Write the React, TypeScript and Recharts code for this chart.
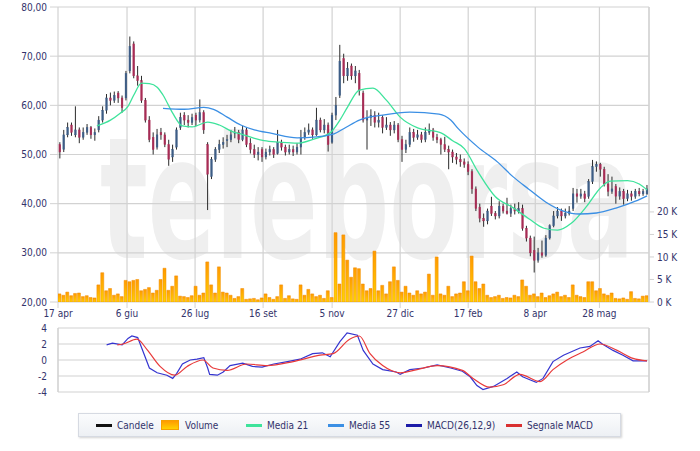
import React from "react";
import { ComposedChart, LineChart, Bar, Line, XAxis, YAxis, CartesianGrid, ReferenceLine } from "recharts";

const tickDays = [0, 35.5, 70.5, 105.5, 141, 176, 211, 245.5, 278.5];
const tickLabels = ["17 apr", "6 giu", "26 lug", "16 set", "5 nov", "27 dic", "17 feb", "8 apr", "28 mag"];
const priceTicks = [20, 30, 40, 50, 60, 70, 80];
const volumeTicks = [0, 5, 10, 15, 20];
const macdTicks = [-4, -2, 0, 2, 4];

const opens = [
  52, 51, 54, 56, 54, 55, 53.5, 54.5, 55.5, 54,
  55, 57, 59, 61.5, 61, 62.5, 61.5, 61.5, 67, 72.5,
  66, 65, 61, 57, 53.5, 51.5, 54.5, 54, 52, 49.5,
  51.5, 55.5, 58, 57, 56.5, 58, 57, 58.5, 52, 45.5,
  49, 51, 52, 52.8, 53, 54.3, 54.5, 53, 55, 52.3,
  51, 50, 51, 49.5, 50.5, 51, 50.2, 52.5, 51.5, 50.5,
  51, 50.5, 51.5, 53.5, 54.5, 55, 54, 57, 55, 56,
  52.5, 58, 62, 69.5, 66, 68, 66, 66.5, 62.5, 57,
  57.5, 58, 56.5, 57.5, 55.5, 56, 55, 56, 53, 51,
  52, 54.5, 53.5, 54, 53, 54.5, 55, 53.5, 53, 52,
  51, 50.5, 49.5, 49, 48.5, 48, 46.5, 43, 39.3, 37,
  36.5, 39.5, 38, 37.5, 39.5, 38.5, 38, 39, 38.5, 39,
  35, 33, 30.5, 28.5, 30, 29.5, 33, 35.5, 37.5, 38.5,
  37.5, 38, 39, 42, 41.5, 42, 41.5, 44.5, 47.5, 48,
  47, 44, 42.5, 43.5, 41.5, 42.5, 41, 42, 41.5, 42.5,
  42, 42,
];
const highs = [
  52.5, 55, 56.5, 56.5, 59.8, 55.5, 55.5, 56.2, 55.8, 55.3,
  57.8, 59.8, 62.3, 62.6, 62.8, 62.9, 62, 67, 74, 73,
  68, 66, 61.5, 57.8, 54.5, 55.2, 55.4, 54.5, 53, 52,
  55.5, 58.5, 58.6, 58, 58.3, 58.5, 61.2, 59, 52.5, 49.5,
  51.5, 53, 53.5, 54, 55, 55.6, 55, 55.8, 55.5, 53.3,
  52, 51.5, 51.5, 51.2, 51.8, 51.5, 55, 53, 52, 52,
  51.8, 52.3, 55, 55.5, 56.3, 55.5, 59.5, 57.5, 57.2, 56.5,
  58.5, 61.7, 72.3, 70.5, 68.8, 68.5, 68, 67.2, 63, 59,
  59.2, 58.8, 58.5, 58, 57.6, 56.6, 56.8, 56.4, 53.8, 53,
  55.5, 55.2, 55, 54.6, 55.5, 56.3, 55.4, 54.2, 53.4, 53.6,
  51.8, 51, 50.3, 50, 49.2, 48.6, 47, 43.5, 40, 38,
  39, 41.4, 38.5, 40.5, 40, 41.2, 39.8, 40, 40.3, 39.8,
  35.5, 33.5, 33.3, 31, 32.5, 33.6, 35.8, 38.5, 39.3, 39,
  39, 39.5, 43.2, 43, 43, 42.6, 45, 48.9, 48.6, 48.3,
  47.5, 46, 45.5, 44, 43.3, 43, 42.8, 42.6, 43, 43.2,
  43, 43.8,
];
const lows = [
  49.2, 50.5, 53.5, 53.8, 53.5, 52.3, 53, 54, 53.2, 52.8,
  54.5, 56.5, 58.3, 60, 60.5, 60.5, 58.5, 61, 66.5, 65.5,
  64, 60.5, 56.5, 52.5, 50, 51, 53, 51.5, 47.7, 48.5,
  51, 55, 56, 55.5, 56, 55.8, 56.5, 54.2, 38.7, 45,
  48.5, 50.3, 51.2, 51.5, 52.5, 53.3, 52.3, 52.7, 51.5, 50.2,
  49.3, 48.8, 48.5, 49, 49.8, 49.3, 50, 50.8, 49.8, 50,
  49.7, 50, 50, 53, 54, 53.2, 53.8, 54.5, 54.3, 50.6,
  52.2, 57, 61.5, 64.5, 65, 65.2, 64.5, 62, 56.5, 51,
  55.8, 55.5, 55.5, 54.3, 55, 53.8, 54.3, 52.5, 48.5, 50.3,
  51.5, 52.6, 53, 52.4, 52.5, 54, 52.8, 52.3, 50, 50.5,
  47, 48.3, 48, 47.5, 47.3, 45.8, 42, 38.5, 36.2, 35.3,
  35.8, 37.5, 36.8, 37, 38, 37.8, 37.3, 37.8, 38, 34.5,
  32.3, 29.3, 26, 28, 29, 29.2, 32.7, 35.2, 37, 36.5,
  37, 37.6, 38.5, 40.2, 41, 40.3, 41, 44, 46.5, 45.5,
  43.5, 41.5, 42, 40, 40.8, 39.8, 40.5, 40.6, 41, 41.5,
  41.6, 41.8,
];
const closes = [
  50.5, 54, 55.5, 54.5, 55, 53.5, 54.5, 55.5, 54, 54.5,
  57, 59, 61.5, 61, 62, 61.5, 59.5, 66.5, 72, 66,
  65, 61, 57, 53, 51, 54, 54, 52, 49, 51,
  55, 57.5, 57, 56.5, 57.5, 57, 58.5, 55, 46, 49,
  51, 52, 52.5, 53, 54, 54.5, 53, 55, 52, 51,
  50, 50.5, 49.5, 50.5, 51, 50, 52.5, 51.5, 50.5, 51,
  50.5, 51.5, 53.5, 54.5, 55, 54, 57, 55, 56, 52,
  58, 60, 69, 66, 67.5, 66, 67, 63, 57, 57.5,
  58, 56.5, 57, 55.5, 56, 55, 56, 53, 51, 52,
  54.5, 53.5, 54, 53, 54.5, 55, 53.5, 53, 52, 51,
  50.5, 49.5, 49, 48.5, 48, 46.5, 43, 39, 37, 36.5,
  38.5, 38, 37.5, 39.5, 38.5, 38, 39, 38.5, 39, 35,
  33, 30, 28.5, 30, 29.5, 33, 35.5, 37.5, 38.5, 37.5,
  38, 38.5, 42, 41.5, 42, 41, 44.5, 47.5, 48, 47,
  44, 42.5, 43, 41.5, 42.5, 41, 42, 41.5, 42.5, 42,
  42.5, 43,
];
const volumes = [
  1.8, 1.5, 2.2, 1.4, 1.9, 2.0, 1.2, 1.4, 1.0, 0.9,
  3.8, 6.5, 2.5, 3.0, 1.5, 1.8, 1.2, 4.8, 4.5, 4.8,
  5.0, 2.5, 2.8, 3.2, 2.0, 2.6, 5.0, 7.5, 2.6, 3.5,
  5.8, 1.3, 1.2, 1.0, 1.4, 3.5, 1.5, 2.0, 8.9, 3.8,
  2.0, 7.8, 2.2, 2.0, 1.5, 0.8, 1.2, 3.0, 0.6, 0.7,
  0.8, 0.5, 0.9, 1.8, 1.0, 0.6, 1.2, 3.8, 0.8, 1.4,
  0.7, 0.6, 3.8, 1.5, 2.8, 1.8, 1.2, 1.5, 0.8, 2.5,
  1.0, 15.4, 4.0, 14.9, 9.3, 5.5, 7.6, 7.4, 4.0, 2.5,
  3.0, 11.3, 2.5, 3.7, 1.8, 4.5, 7.8, 4.8, 2.2, 3.5,
  2.0, 1.5, 2.5, 1.8, 2.2, 6.2, 1.5, 10.0, 1.8, 1.5,
  3.5, 1.2, 1.8, 2.0, 4.5, 2.5, 10.2, 4.5, 3.0, 4.0,
  1.5, 1.0, 1.2, 1.5, 0.8, 1.0, 0.9, 1.5, 1.2, 4.9,
  3.5, 1.5, 1.8, 1.2, 2.0, 1.0, 1.4, 1.8, 2.2, 1.2,
  1.5, 1.0, 3.8, 1.5, 1.2, 1.0, 4.5, 4.5, 2.5, 3.0,
  1.8, 1.5, 2.0, 0.8, 0.7, 0.9, 0.6, 2.3, 0.8, 0.7,
  1.3, 1.4,
];

const ma21Days = [20, 27, 32, 36, 39, 43, 47, 51, 54, 59, 64, 69, 77, 83, 90, 94, 101, 106, 114, 123, 132, 140, 145, 149, 155, 162, 169, 176, 185, 197, 203, 209, 216, 225, 234, 242, 250, 257, 264, 272, 279, 284, 293, 299, 303];
const ma21Values = [55.8, 57.0, 58.4, 59.8, 62.1, 64.5, 64.4, 63.7, 62.1, 58.4, 55.8, 55.6, 56.6, 56.0, 54.6, 54.2, 53.3, 52.8, 52.5, 52.3, 53.2, 54.4, 57.0, 59.7, 63.1, 63.5, 61.0, 57.6, 55.4, 54.4, 52.8, 51.2, 46.5, 41.4, 39.2, 37.0, 35.0, 34.6, 36.0, 39.5, 43.2, 44.6, 44.7, 44.0, 42.8];
const ma55Days = [54, 65, 75, 80, 87, 94, 101, 110, 123, 133, 142, 148, 155, 167, 181, 196, 202, 206, 216, 226, 234, 242, 251, 260, 268, 277, 287, 297, 303];
const ma55Values = [59.4, 59.2, 59.6, 59.2, 57.6, 56.0, 55.0, 54.3, 53.4, 53.6, 54.2, 55.5, 57.0, 58.0, 58.6, 58.2, 57.0, 55.2, 51.5, 48.5, 45.5, 43.0, 40.3, 38.5, 37.9, 38.1, 39.1, 40.5, 41.6];

const macdDays = [25, 28, 33, 36, 38, 41, 44, 47, 51, 56, 59, 61, 64, 68, 71.5, 75, 77, 78, 82, 85, 88.5, 95, 100, 105, 111, 118, 124.5, 131, 136, 140, 145, 148.7, 154, 157, 162, 167, 174, 176, 181, 188, 195, 202, 208, 212, 215.5, 218.6, 224, 231, 236, 239, 243, 246, 249.5, 254.6, 260, 268.5, 273.6, 277.8, 280, 285.5, 290.6, 295.8, 303];
const macdValues = [1.9, 2.1, 1.9, 2.7, 3.0, 2.8, 0.9, -1.0, -1.6, -1.9, -2.3, -1.7, -0.5, 0.0, 0.1, 0.3, -1.0, -1.8, -1.9, -1.5, -0.7, -0.4, -0.8, -0.9, -0.5, -0.2, 0.1, 0.8, 0.9, 0.4, 2.3, 3.4, 3.1, 1.2, -0.5, -1.2, -1.5, -1.8, -1.2, -1.0, -0.6, -1.0, -1.4, -2.1, -3.2, -3.7, -3.3, -2.3, -1.5, -2.1, -2.5, -2.8, -2.3, -0.2, 0.6, 1.5, 1.7, 2.4, 2.0, 1.2, 0.6, -0.1, -0.1];
const signalDays = [30.5, 33.4, 40.6, 45.8, 52.5, 60, 66.4, 74.6, 79.7, 87, 97, 107.5, 121, 134.8, 141.5, 150, 155, 160.5, 167, 176, 184.7, 195, 208, 213.5, 222, 229, 237.6, 248, 254.6, 261.8, 270, 278.8, 287.6, 295.8, 303];
const signalValues = [1.9, 2.0, 2.6, 1.3, -0.8, -1.9, -0.8, 0.0, -1.0, -1.3, -0.5, -0.7, -0.2, 0.6, 0.8, 2.6, 3.0, 0.8, -0.7, -1.6, -1.2, -0.7, -1.3, -2.3, -3.4, -3.1, -1.8, -2.7, -1.2, 0.0, 1.0, 2.0, 1.2, 0.2, -0.1];

const FONT = "'DejaVu Sans Condensed', 'DejaVu Sans', sans-serif";
const TEXT = "#33336b";
const GRID = "#d2d2d2";
const C_MA21 = "#3ee39b";
const C_MA55 = "#3b8fe4";
const C_MACD = "#3535d0";
const C_SIG = "#e83a3a";

const rows = opens.map((o, i) => ({
  d: 1 + 2 * i,
  o,
  h: highs[i],
  l: lows[i],
  c: closes[i],
  prev: i > 0 ? closes[i - 1] : o,
  range: [lows[i], highs[i]],
  v: volumes[i],
}));
const ma21 = ma21Days.map((d, i) => ({ d, v: ma21Values[i] }));
const ma55 = ma55Days.map((d, i) => ({ d, v: ma55Values[i] }));
const macd = macdDays.map((d, i) => ({ d, v: macdValues[i] }));
const signal = signalDays.map((d, i) => ({ d, v: signalValues[i] }));

const fmtDay = (v: number) => {
  const i = tickDays.indexOf(v);
  return i >= 0 ? tickLabels[i] : "";
};
const tickStyle = { fill: TEXT, fontSize: 10, fontFamily: FONT };

const Candle = (props: any) => {
  const { x, y, width, height, payload } = props;
  if (!payload || x == null) return null;
  const { o, h, l, c, prev } = payload;
  const top = Math.min(y, y + height);
  const hp = Math.abs(height);
  const ppu = hp / (h - l || 1);
  const bTop = top + (h - Math.max(o, c)) * ppu;
  const bBot = top + (h - Math.min(o, c)) * ppu;
  const cx = x + width / 2;
  const color = c < o ? "#a82c55" : c >= prev ? "#3d5d86" : "#3fae6c";
  return (
    <g>
      <line x1={cx} x2={cx} y1={top} y2={top + hp} stroke="#2b2b2b" strokeWidth={1} />
      <rect x={x} y={bTop} width={width} height={Math.max(bBot - bTop, 1)} fill={color} stroke={color} strokeWidth={0.4} />
    </g>
  );
};

const legendItems = [
  { label: "Candele", color: "#111", kind: "line", left: 17 },
  { label: "Volume", color: "#ffa800", kind: "box", left: 82 },
  { label: "Media 21", color: C_MA21, kind: "line", left: 167 },
  { label: "Media 55", color: C_MA55, kind: "line", left: 249 },
  { label: "MACD(26,12,9)", color: "#1c1ca8", kind: "line", left: 327 },
  { label: "Segnale MACD", color: "#d93030", kind: "line", left: 427 },
];

export default function App() {
  return (
    <div style={{ position: "absolute", left: 0, top: 0, width: 700, height: 451, background: "#fff", overflow: "hidden" }}>
      <svg width={700} height={451} style={{ position: "absolute", left: 0, top: 0 }}>
        <text transform="translate(100 258) scale(1.0 1.7)" x={0} y={0} fontFamily="'DejaVu Sans', sans-serif" fontWeight="bold" fontSize={100} fill="#efefef">
          teleborsa
        </text>
      </svg>

      <div style={{ position: "absolute", left: 0, top: 0 }}>
        <ComposedChart width={700} height={325} data={rows} margin={{ top: 7, right: 0, bottom: 0, left: 0 }}>
          <defs>
            <linearGradient id="volGrad" x1="0" y1="0" x2="0" y2="1">
              <stop offset="0" stopColor="#ff9a00" />
              <stop offset="1" stopColor="#ffd200" />
            </linearGradient>
          </defs>
          <CartesianGrid stroke={GRID} strokeWidth={1.2} />
          <XAxis dataKey="d" type="number" domain={[0, 304]} ticks={tickDays} interval={0} tickFormatter={fmtDay} tick={tickStyle} tickLine={{ stroke: GRID }} tickSize={6} tickMargin={2} axisLine={false} height={23} allowDataOverflow />
          <YAxis yAxisId={0} domain={[20, 80]} ticks={priceTicks} interval={0} tickFormatter={(v: number) => v.toFixed(2).replace(".", ",")} width={58} tick={tickStyle} tickLine={{ stroke: GRID }} tickSize={8} tickMargin={3} axisLine={false} allowDataOverflow />
          <YAxis yAxisId="vol" orientation="right" domain={[0, 65.5]} ticks={volumeTicks} interval={0} tickFormatter={(v: number) => `${v} K`} width={51} tick={tickStyle} tickLine={{ stroke: GRID }} tickSize={5} tickMargin={3} axisLine={false} allowDataOverflow />
          <ReferenceLine x={304} yAxisId={0} stroke={GRID} strokeWidth={1.2} />
          <Bar yAxisId="vol" dataKey="v" barSize={3} fill="url(#volGrad)" stroke="#f08c00" strokeWidth={0.5} isAnimationActive={false} />
        </ComposedChart>
      </div>

      <div style={{ position: "absolute", left: 0, top: 0 }}>
        <ComposedChart width={700} height={325} data={rows} margin={{ top: 7, right: 51, bottom: 23, left: 58 }}>
          <XAxis dataKey="d" type="number" domain={[0, 304]} hide allowDataOverflow />
          <YAxis domain={[20, 80]} hide allowDataOverflow />
          <Bar dataKey="range" barSize={3} shape={(p: any) => <Candle {...p} />} isAnimationActive={false} />
          <Line data={ma21} dataKey="v" type="monotone" stroke={C_MA21} strokeWidth={1.3} dot={false} activeDot={false} isAnimationActive={false} />
          <Line data={ma55} dataKey="v" type="monotone" stroke={C_MA55} strokeWidth={1.3} dot={false} activeDot={false} isAnimationActive={false} />
        </ComposedChart>
      </div>

      <div style={{ position: "absolute", left: 0, top: 320 }}>
        <LineChart width={700} height={80} margin={{ top: 8, right: 51, bottom: 8, left: 0 }}>
          <CartesianGrid stroke={GRID} strokeWidth={1.2} />
          <XAxis dataKey="d" type="number" domain={[0, 304]} ticks={tickDays} interval={0} height={0} tick={false} tickLine={false} axisLine={false} allowDataOverflow />
          <YAxis domain={[-4, 4]} ticks={macdTicks} interval={0} width={58} tick={tickStyle} tickLine={false} tickSize={0} tickMargin={11} axisLine={{ stroke: GRID }} allowDataOverflow />
          <ReferenceLine x={304} stroke={GRID} strokeWidth={1.2} />
          <Line data={macd} dataKey="v" type="linear" stroke={C_MACD} strokeWidth={1.2} dot={false} activeDot={false} isAnimationActive={false} />
          <Line data={signal} dataKey="v" type="monotone" stroke={C_SIG} strokeWidth={1.2} dot={false} activeDot={false} isAnimationActive={false} />
        </LineChart>
      </div>

      <div
        style={{
          position: "absolute",
          left: 78,
          top: 413,
          width: 541,
          height: 22,
          border: "1px solid #d6dae2",
          background: "linear-gradient(#fbfcfd, #edf0f4)",
          boxShadow: "1px 1px 2px rgba(0,0,0,0.18)",
          fontFamily: FONT,
          fontSize: 10,
          color: TEXT,
        }}
      >
        {legendItems.map((it) => (
          <div key={it.label} style={{ position: "absolute", left: it.left, top: 0, height: 22, display: "flex", alignItems: "center", whiteSpace: "nowrap" }}>
            {it.kind === "line" ? (
              <span style={{ display: "inline-block", width: 16, height: 3, background: it.color, marginRight: 5 }} />
            ) : (
              <span style={{ display: "inline-block", width: 18, height: 10, background: "linear-gradient(#ff9a00, #ffd200)", border: "1px solid #f5a000", marginRight: 6, boxSizing: "border-box" }} />
            )}
            <span>{it.label}</span>
          </div>
        ))}
      </div>
    </div>
  );
}
